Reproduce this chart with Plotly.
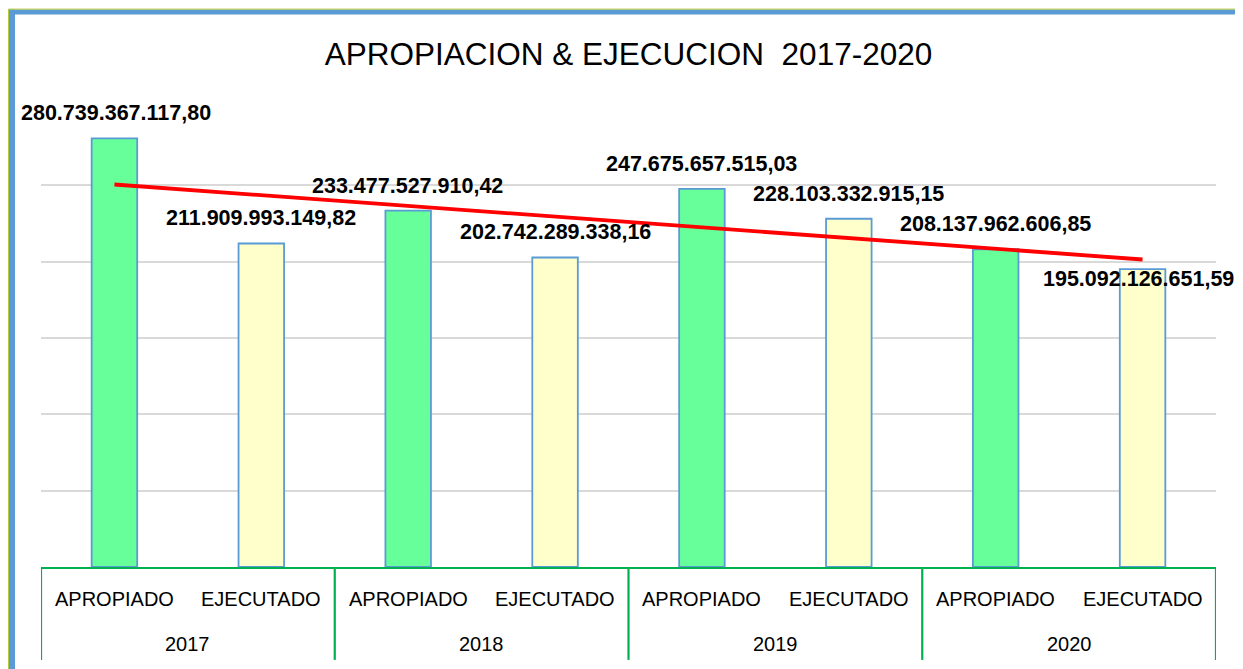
import numpy as np
import plotly.graph_objects as go

# Datos
years = ["2017", "2018", "2019", "2020"]
conceptos = ["APROPIADO", "EJECUTADO"]
apropiado = [280739367117.80, 233477527910.42, 247675657515.03, 208137962606.85]
ejecutado = [211909993149.82, 202742289338.16, 228103332915.15, 195092126651.59]

# the page puts the figure 8px in from the corner, so work in page pixels
OFF = 8
PAGE_W, PAGE_H = 1243, 669
W, H = PAGE_W - OFF, PAGE_H - OFF
PL, PR, PT, PB = 41, 1216, 108.5, 567   # plot area, page pixels


def fx(p):
    return (p - PL) / (PR - PL)


def fy(p):
    return (PB - p) / (PB - PT)


# flatten into the multicategory order
x_year, x_cat, vals = [], [], []
for i, yr in enumerate(years):
    for c, serie in zip(conceptos, [apropiado, ejecutado]):
        x_year.append(yr)
        x_cat.append(c)
        vals.append(serie[i])

fill = {"APROPIADO": "#66FF99", "EJECUTADO": "#FFFFCC"}
colors = [fill[c] for c in x_cat]

# linear trendline (like Excel) over all 8 bars
idx = np.arange(1, len(vals) + 1)
slope, intercept = np.polyfit(idx, vals, 1)
trend = [slope * idx[0] + intercept, slope * idx[-1] + intercept]


def fmt(v):
    s = f"{v:,.2f}"
    return s.replace(",", "#").replace(".", ",").replace("#", ".")


fig = go.Figure()
fig.add_trace(go.Bar(
    x=[x_year, x_cat],
    y=vals,
    width=0.31,
    marker=dict(color=colors, line=dict(color="#5B9BD5", width=1.8)),
    showlegend=False,
))
fig.add_trace(go.Scatter(
    x=[[x_year[0], x_year[-1]], [x_cat[0], x_cat[-1]]],
    y=trend,
    mode="lines",
    line=dict(color="#FF0000", width=3.8),
    showlegend=False,
))

# value labels above the bars (last one was dragged down in the original)
label_shift = [25, 25, 25, 25, 25, 25, 25, -10]
label_xshift = [2, 0, -1, 0, 0, 0, 0, -4]
for i, v in enumerate(vals):
    fig.add_annotation(
        x=i, y=v, xref="x", yref="y",
        text=fmt(v), showarrow=False,
        yshift=label_shift[i], xshift=label_xshift[i],
        font=dict(family="Liberation Sans", size=21.5, color="#000000", weight="bold"),
    )

# two-level category labels under the axis (Excel style boxes)
tick_font = dict(family="Liberation Sans", size=20, color="#000000")
for i, c in enumerate(x_cat):
    fig.add_annotation(x=i, y=fy(599), xref="x", yref="paper", text=c,
                       showarrow=False, yanchor="middle", font=tick_font)
n_sub = len(conceptos)
for j, yr in enumerate(years):
    fig.add_annotation(x=j * n_sub + (n_sub - 1) / 2, y=fy(644.5), xref="x", yref="paper",
                       text=yr, showarrow=False, yanchor="middle", font=tick_font)

green = "#00B050"
shapes = []
for j in range(len(years) + 1):
    b = j * n_sub - 0.5
    shapes.append(dict(type="line", xref="x", yref="paper", x0=b, x1=b, y0=0, y1=fy(660),
                       line=dict(color=green, width=2.2), layer="above"))

# frame of the chart (blue border on left, top and right)
blue = "#5B9BD5"
olive = "#B4C83A"
shapes += [
    dict(type="rect", xref="paper", yref="paper", x0=fx(9), x1=fx(15), y0=fy(PAGE_H + 5), y1=fy(9),
         fillcolor=blue, line_width=0, layer="above"),
    dict(type="rect", xref="paper", yref="paper", x0=fx(9), x1=fx(PAGE_W + 5), y0=fy(14), y1=fy(9),
         fillcolor=blue, line_width=0, layer="above"),
    dict(type="rect", xref="paper", yref="paper", x0=fx(1240.5), x1=fx(PAGE_W + 5), y0=fy(PAGE_H + 5), y1=fy(9),
         fillcolor=blue, line_width=0, layer="above"),
    dict(type="line", xref="paper", yref="paper", x0=fx(8.5), x1=fx(PAGE_W + 5), y0=fy(8.5), y1=fy(8.5),
         line=dict(color=olive, width=1), layer="above"),
    dict(type="line", xref="paper", yref="paper", x0=fx(8.5), x1=fx(8.5), y0=fy(PAGE_H + 5), y1=fy(8.5),
         line=dict(color=olive, width=1), layer="above"),
]

fig.update_layout(
    width=W, height=H,
    template="none",
    paper_bgcolor="white",
    plot_bgcolor="white",
    margin=dict(l=PL - OFF, r=PAGE_W - PR, t=PT - OFF, b=PAGE_H - PB, pad=0),
    title=dict(
        text="APROPIACION &amp; EJECUCION&nbsp;&nbsp;2017-2020",
        x=0.5, xref="paper", xanchor="center",
        y=1 - (54 - OFF) / H, yanchor="middle",
        font=dict(family="Liberation Sans", size=31.5, color="#000000"),
    ),
    shapes=shapes,
    showlegend=False,
)
fig.update_xaxes(
    type="multicategory",
    range=[-0.5, 7.5],
    showline=True, linecolor=green, linewidth=2.2,
    showticklabels=False, showdividers=False, ticks="",
    showgrid=False, automargin=False,
)
fig.update_yaxes(
    range=[0, 300e9], dtick=50e9,
    showgrid=True, gridcolor="#D9D9D9", gridwidth=1.8,
    zeroline=False, showticklabels=False, ticks="",
    showline=False, automargin=False,
)

fig.write_html("out.html")
